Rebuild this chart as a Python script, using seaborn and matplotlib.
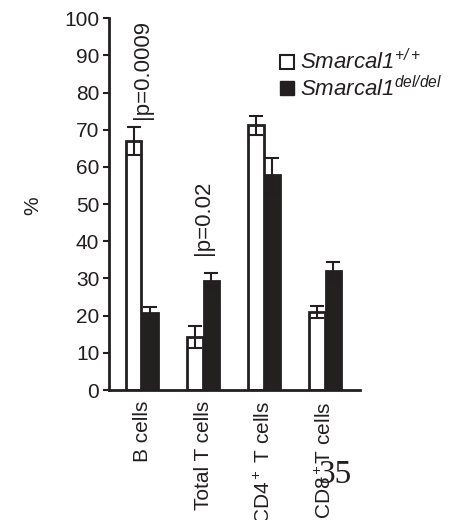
import numpy as np
import pandas as pd
import seaborn as sns
import matplotlib.pyplot as plt
from matplotlib.lines import Line2D

cell_types = ["B cells", "Total T cells", "CD4$^+$ T cells", "CD8$^+$T cells"]
genotypes = ["wt", "del"]
wt_values = [67.0, 14.2, 71.2, 21.0]
wt_err = [3.7, 3.0, 2.5, 1.7]
del_values = [20.6, 29.4, 57.8, 31.9]
del_err = [1.6, 2.0, 4.7, 2.6]
legend_labels = ["Smarcal1$^{+/+}$", "Smarcal1$^{del/del}$"]
p_labels = ["|p=0.0009", "|p=0.02"]
p_heights = [73.0, 36.3]

df = pd.DataFrame({
    "cell": cell_types * 2,
    "genotype": ["wt"] * 4 + ["del"] * 4,
    "value": wt_values + del_values,
})

sns.set_style("ticks")
plt.rcParams["font.family"] = ["Liberation Sans", "DejaVu Sans"]
plt.rcParams["mathtext.fontset"] = "custom"
plt.rcParams["mathtext.rm"] = "Liberation Sans"
plt.rcParams["mathtext.it"] = "Liberation Sans:italic"

fig = plt.figure(figsize=(4.68, 5.2), dpi=100)
ax = fig.add_axes([0.233, 0.25, 0.536, 0.715])

sns.barplot(data=df, x="cell", y="value", hue="genotype", hue_order=genotypes,
            palette={"wt": "white", "del": "#231f20"}, edgecolor="#231f20",
            linewidth=2, width=0.55, gap=0.06, errorbar=None, legend=False, ax=ax)

# error bars on top of each bar
for cont, errs in zip(ax.containers, [wt_err, del_err]):
    for bar, e in zip(cont, errs):
        xc = bar.get_x() + bar.get_width() / 2
        ax.errorbar(xc, bar.get_height(), yerr=e, color="#231f20", lw=1.5,
                    capsize=5, capthick=1.5, zorder=5)

for i, (txt, h) in enumerate(zip(p_labels, p_heights)):
    ax.text(i, h, txt, rotation=90, ha="center", va="bottom", fontsize=16, color="#231f20")

ax.set_ylim(0, 100)
ax.set_xlim(-0.54, 3.57)
ax.set_yticks(range(0, 101, 10))
ax.set_xlabel("")
ax.set_ylabel("")
ax.tick_params(axis="y", labelsize=15, length=4, width=1.5, colors="#231f20", pad=3)
ax.tick_params(axis="x", labelsize=15, length=0, rotation=90, pad=8, colors="#231f20")
sns.despine(ax=ax)
for s in ["left", "bottom"]:
    ax.spines[s].set_linewidth(2)
    ax.spines[s].set_color("#231f20")

fig.text(0.07, 0.605, "%", rotation=90, fontsize=15, ha="center", va="center", color="#231f20")

handles = [
    Line2D([], [], marker="s", ls="", markersize=10, markerfacecolor="white",
           markeredgecolor="#231f20", markeredgewidth=1.5),
    Line2D([], [], marker="s", ls="", markersize=10, markerfacecolor="#231f20",
           markeredgecolor="#231f20"),
]
leg = fig.legend(handles, legend_labels, loc="upper left", bbox_to_anchor=(0.58, 0.922),
                 frameon=False, fontsize=16, handlelength=0.6, handletextpad=0.3,
                 labelspacing=0.05, borderaxespad=0)
for t in leg.get_texts():
    t.set_fontstyle("italic")
    t.set_color("#231f20")
# italic superscripts in the legend
plt.rcParams["mathtext.rm"] = "Liberation Sans:italic"

fig.text(0.715, 0.087, "35", family=["Liberation Serif", "DejaVu Serif"], fontsize=24,
         ha="center", va="center", color="#231f20")

fig.savefig("out.png", dpi=100)
